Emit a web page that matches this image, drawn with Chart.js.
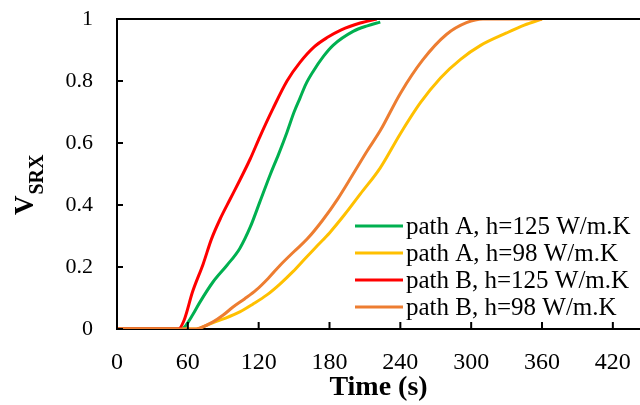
<!DOCTYPE html>
<html>
<head>
<meta charset="utf-8">
<script src="https://cdn.jsdelivr.net/npm/chart.js@4/dist/chart.umd.min.js"></script>
<style>
  html, body { margin: 0; padding: 0; background: #fff; }
  canvas { display: block; }
</style>
</head>
<body>
<canvas id="c" width="640" height="405"></canvas>
<script>
// datos (tiempo en s, fraccion recristalizada)
const seriesLabels = ['path A, h=125 W/m.K', 'path A, h=98 W/m.K', 'path B, h=125 W/m.K', 'path B, h=98 W/m.K'];
const seriesColors = ['#00B050', '#FFC000', '#FF0000', '#ED7D31'];

const timeAh125 = [0, 55, 58, 64, 70, 81, 93, 104, 113, 121, 130, 137, 144, 150, 155, 160, 166, 175, 183, 200, 212, 223];
const vsrxAh125 = [0, 0, 0.01, 0.045, 0.085, 0.15, 0.205, 0.26, 0.33, 0.41, 0.50, 0.565, 0.635, 0.70, 0.745, 0.79, 0.83, 0.88, 0.915, 0.96, 0.978, 0.99];

const timeAh98 = [0, 65, 70, 81, 92, 104, 115, 127, 138, 149, 160, 170, 180, 193, 206, 223, 240, 257, 274, 291, 308, 330, 345, 360];
const vsrxAh98 = [0, 0, 0.003, 0.02, 0.035, 0.055, 0.08, 0.11, 0.145, 0.185, 0.23, 0.27, 0.31, 0.37, 0.435, 0.52, 0.63, 0.73, 0.81, 0.87, 0.915, 0.955, 0.98, 1.0];

const timeBh125 = [0, 52, 57, 64, 73, 80, 88, 96, 104, 113, 121, 132, 144, 155, 167, 178, 190, 206, 220];
const vsrxBh125 = [0, 0, 0.03, 0.12, 0.21, 0.29, 0.36, 0.42, 0.48, 0.55, 0.62, 0.71, 0.80, 0.86, 0.91, 0.94, 0.965, 0.987, 1.0];

const timeBh98 = [0, 65, 70, 81, 90, 98, 108, 118, 128, 138, 150, 161, 174, 187, 200, 212, 223, 240, 259, 279, 296, 310, 360];
const vsrxBh98 = [0, 0, 0.003, 0.022, 0.045, 0.07, 0.097, 0.126, 0.163, 0.205, 0.25, 0.29, 0.35, 0.42, 0.50, 0.575, 0.64, 0.76, 0.868, 0.95, 0.988, 1.0, 1.0];

const xTickStep = 60;
const yTickStep = 0.2;

function toPoints(xs, ys) {
  return xs.map((x, i) => ({ x: x, y: ys[i] }));
}

const serif = "'Liberation Serif', 'Times New Roman', serif";

// marcas de las escalas hacia adentro, borde superior, titulo del eje y leyenda
const extras = {
  id: 'extras',
  afterDatasetsDraw(chart) {
    const ctx = chart.ctx;
    const a = chart.chartArea;
    const xs = chart.scales.x, ys = chart.scales.y;
    ctx.save();
    ctx.strokeStyle = '#000';
    ctx.lineWidth = 2;
    ctx.beginPath();
    ctx.moveTo(a.left - 1, a.top);
    ctx.lineTo(a.right, a.top);
    ys.ticks.forEach(t => {
      const py = ys.getPixelForValue(t.value);
      ctx.moveTo(a.left, py);
      ctx.lineTo(a.left + 6, py);
    });
    xs.ticks.forEach(t => {
      const px = xs.getPixelForValue(t.value);
      ctx.moveTo(px, a.bottom);
      ctx.lineTo(px, a.bottom - 7);
    });
    ctx.stroke();

    // titulo del eje y con subindice
    ctx.fillStyle = '#000';
    ctx.translate(33, 215);
    ctx.rotate(-Math.PI / 2);
    ctx.textBaseline = 'alphabetic';
    ctx.textAlign = 'left';
    ctx.font = 'bold 27px ' + serif;
    ctx.fillText('V', 0, 0);
    const w = ctx.measureText('V').width;
    ctx.font = 'bold 20px ' + serif;
    ctx.fillText('SRX', w + 1, 10);
    ctx.restore();

    // leyenda dentro del area
    ctx.save();
    ctx.font = '25px ' + serif;
    ctx.textBaseline = 'middle';
    ctx.textAlign = 'left';
    chart.data.datasets.forEach((ds, i) => {
      const ry = 226 + i * 27;
      ctx.strokeStyle = ds.borderColor;
      ctx.lineWidth = 3;
      ctx.beginPath();
      ctx.moveTo(355, ry);
      ctx.lineTo(403, ry);
      ctx.stroke();
      ctx.fillStyle = '#000';
      ctx.fillText(ds.label, 406, ry + 1);
    });
    ctx.restore();
  }
};

const allTimes = [timeAh125, timeAh98, timeBh125, timeBh98];
const allValues = [vsrxAh125, vsrxAh98, vsrxBh125, vsrxBh98];

new Chart(document.getElementById('c').getContext('2d'), {
  type: 'line',
  data: {
    datasets: seriesLabels.map((label, i) => ({
      label: label,
      data: toPoints(allTimes[i], allValues[i]),
      borderColor: seriesColors[i],
      backgroundColor: seriesColors[i],
      borderWidth: 3,
      pointRadius: 0,
      cubicInterpolationMode: 'monotone',
      fill: false,
      order: 4 - i
    }))
  },
  options: {
    responsive: false,
    animation: false,
    devicePixelRatio: 1,
    layout: { padding: { top: 19, right: 0, left: 0, bottom: 0 } },
    plugins: {
      legend: { display: false },
      tooltip: { enabled: false }
    },
    scales: {
      x: {
        type: 'linear',
        min: 0,
        max: 443,
        grid: { display: false, drawTicks: false },
        border: { display: true, color: '#000', width: 2 },
        ticks: {
          stepSize: xTickStep,
          includeBounds: false,
          padding: 19,
          color: '#000',
          font: { family: serif, size: 24 },
          maxRotation: 0
        },
        title: {
          display: true,
          text: 'Time (s)',
          color: '#000',
          font: { family: serif, size: 28, weight: 'bold' },
          padding: { top: 0, bottom: 0 }
        },
        afterFit(scale) {
          scale.height = 76;
          scale.paddingLeft = 0;
          scale.paddingRight = 0;
        }
      },
      y: {
        min: 0,
        max: 1,
        grid: { display: false, drawTicks: false },
        border: { display: true, color: '#000', width: 2 },
        ticks: {
          stepSize: yTickStep,
          padding: 24,
          color: '#000',
          font: { family: serif, size: 22 },
          callback: v => String(Number(v.toFixed(1)))
        },
        afterFit(scale) {
          scale.width = 117;
          scale.paddingTop = 0;
          scale.paddingBottom = 0;
        }
      }
    }
  },
  plugins: [extras]
});
</script>
</body>
</html>
